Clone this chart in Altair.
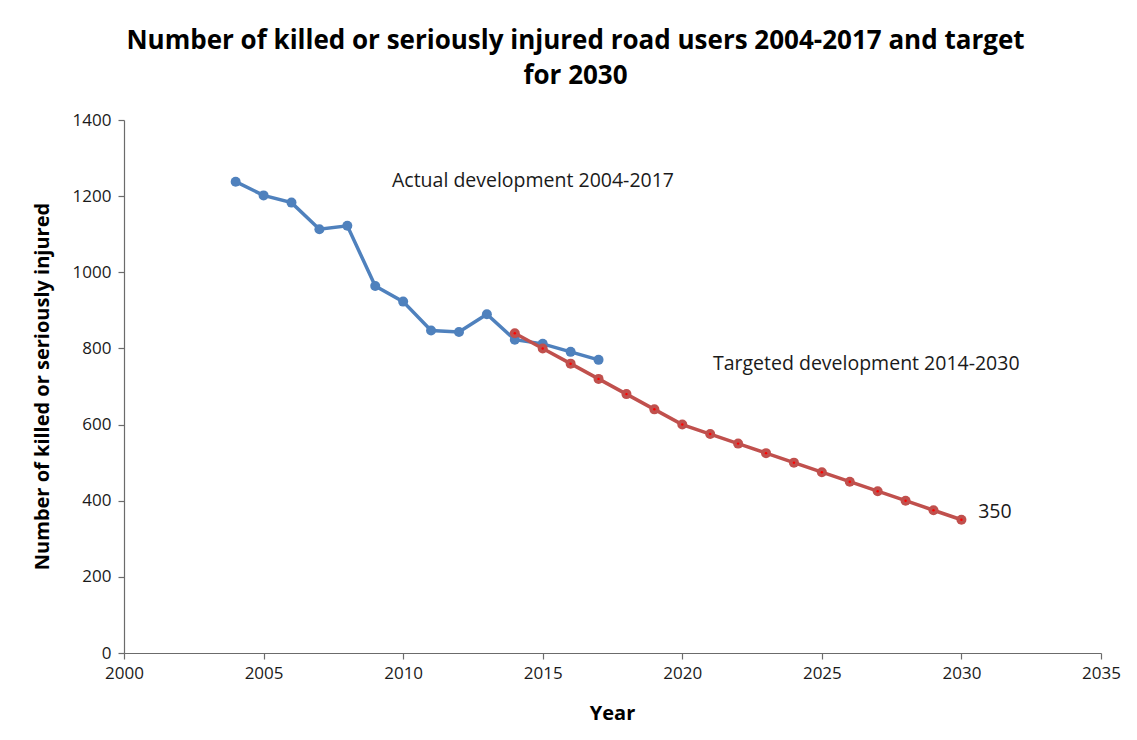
import altair as alt
import pandas as pd

# ---- data ----
actual_years = list(range(2004, 2018))
actual_values = [1238, 1202, 1183, 1113, 1122, 964, 923, 847, 843, 890, 823, 812, 791, 770]

target_years = list(range(2014, 2031))
target_values = [840, 800, 760, 720, 680, 640, 600, 575, 550, 525, 500, 475, 450, 425, 400, 375, 350]

series_names = ["Actual development 2004-2017", "Targeted development 2014-2030"]
series_colors = ["#4F81BD", "#C0504D"]

ann_text = ["Actual development 2004-2017", "Targeted development 2014-2030", "350"]
ann_x = [2009.6, 2021.1, 2030.6]
ann_y = [1240, 759, 370]

x_ticks = [2000, 2005, 2010, 2015, 2020, 2025, 2030, 2035]
y_ticks = [0, 200, 400, 600, 800, 1000, 1200, 1400]

FONT = "Open Sans"

df = pd.concat([
    pd.DataFrame({"year": actual_years, "value": actual_values, "series": series_names[0], "order": 0}),
    pd.DataFrame({"year": target_years, "value": target_values, "series": series_names[1], "order": 1}),
])
ann = pd.DataFrame({"x": ann_x, "y": ann_y, "text": ann_text})

x_enc = alt.X("year:Q", scale=alt.Scale(domain=[2000, 2035], nice=False, zero=False),
              axis=alt.Axis(values=x_ticks, format="d", title="Year", grid=False,
                            titleX=488, titleY=60, titleBaseline="middle",
                            tickSize=6, labelPadding=6, labelFlush=False))
y_enc = alt.Y("value:Q", scale=alt.Scale(domain=[0, 1400], nice=False),
              axis=alt.Axis(values=y_ticks, format="d",
                            title="Number of killed or seriously  injured", grid=False,
                            titleX=-82, titleY=266, titleAngle=270,
                            titleAlign="center", titleBaseline="middle",
                            tickSize=6, labelPadding=7, labelFlush=False))
color = alt.Color("series:N", scale=alt.Scale(domain=series_names, range=series_colors), legend=None)

base = alt.Chart(df)
act = base.transform_filter(alt.datum.order == 0)
tgt = base.transform_filter(alt.datum.order == 1)

lines_actual = act.mark_line(strokeWidth=3.5).encode(x=x_enc, y=y_enc, color=color)
pts_actual = act.mark_point(filled=True, size=100, opacity=1).encode(x=x_enc, y=y_enc, color=color)
lines_target = tgt.mark_line(strokeWidth=3.5).encode(x=x_enc, y=y_enc, color=color)
pts_target = tgt.mark_point(filled=True, size=100, opacity=1).encode(x=x_enc, y=y_enc, color=color)
dots_target = tgt.mark_point(filled=True, size=6, opacity=1, color="#FF0000").encode(x=x_enc, y=y_enc)

texts = alt.Chart(ann).mark_text(align="left", baseline="middle", fontSize=19.5, font=FONT, color="#1a1a1a").encode(
    x=alt.X("x:Q"), y=alt.Y("y:Q"), text="text:N")

chart = alt.layer(lines_actual, pts_actual, lines_target, pts_target, dots_target, texts).properties(
    width=977, height=533,
    autosize=alt.AutoSizeParams(type="none"),
    padding={"left": 116, "top": 112, "right": 28, "bottom": 79},
    title=alt.TitleParams(
        text=["Number of killed or seriously injured road users 2004-2017 and target", "for 2030"],
        fontSize=26, font=FONT, fontWeight="bold", color="#000000",
        anchor="middle", dx=-37, offset=22, lineHeight=35,
    ),
).configure(background="white").configure_view(stroke=None).configure_axis(
    domainColor="#6b6b6b", tickColor="#6b6b6b", domainWidth=1.2, tickWidth=1.2,
    labelFont=FONT, labelFontSize=17, labelColor="#1a1a1a",
    titleFont=FONT, titleFontSize=20, titleFontWeight="bold", titleColor="#000000",
)

chart.save("out.html", embed_options={"renderer": "svg", "actions": False})
